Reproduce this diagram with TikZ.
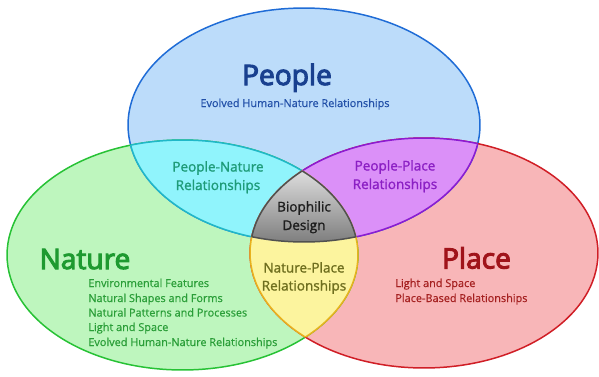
\documentclass[tikz,border=0pt]{standalone}
\usepackage{fontspec}
\setmainfont{Open Sans}
\newfontfamily\titlefont[FakeBold=3.6]{Open Sans}
\newfontfamily\midfont[FakeBold=1.3]{Open Sans}
\newfontfamily\smallfont[FakeBold=0.6]{Open Sans}
\definecolor{blueFill}{HTML}{BCDCFA}
\definecolor{blueLine}{HTML}{1F6CD6}
\definecolor{greenFill}{HTML}{BEF6BE}
\definecolor{greenLine}{HTML}{27C235}
\definecolor{redFill}{HTML}{F8B6B8}
\definecolor{redLine}{HTML}{D01E26}
\definecolor{cyanFill}{HTML}{90F4FC}
\definecolor{cyanLine}{HTML}{20B8C8}
\definecolor{purpFill}{HTML}{DB90F8}
\definecolor{purpLine}{HTML}{8C1BD2}
\definecolor{yelFill}{HTML}{FCF49E}
\definecolor{yelLine}{HTML}{E8B21E}
\definecolor{grayLine}{HTML}{505050}
\definecolor{peopleTxt}{HTML}{19408F}
\definecolor{peopleSub}{HTML}{2250A8}
\definecolor{natureTxt}{HTML}{1E9A30}
\definecolor{natureSub}{HTML}{2A9E38}
\definecolor{placeTxt}{HTML}{A0131A}
\definecolor{placeSub}{HTML}{A52020}
\definecolor{pnTxt}{HTML}{1E9B78}
\definecolor{ppTxt}{HTML}{8B1FC4}
\definecolor{npTxt}{HTML}{6E6E1E}
\definecolor{bdTxt}{HTML}{1E1E1E}
\begin{document}
\begin{tikzpicture}[x=0.02cm,y=-0.02cm,
  ring/.style={line width=0.85pt},
  bigtitle/.style={font=\titlefont\fontsize{16}{19}\selectfont, anchor=base, inner sep=0pt},
  listtxt/.style={font=\smallfont\fontsize{6.2}{7.5}\selectfont, anchor=base west, inner sep=0pt},
  subtxt/.style={font=\smallfont\fontsize{6.2}{7.5}\selectfont, anchor=base, inner sep=0pt},
  midtxt/.style={font=\midfont\fontsize{7.7}{9}\selectfont, anchor=base, inner sep=0pt}]
\useasboundingbox (0,0) rectangle (599,376);
% base fills
\fill[blueFill] (304,125) ellipse [x radius=3.52cm, y radius=2.34cm];
\fill[greenFill] (182.5,255) ellipse [x radius=3.51cm, y radius=2.30cm];
\fill[redFill] (424,253) ellipse [x radius=3.48cm, y radius=2.30cm];
\draw[ring, blueLine] (304,125) ellipse [x radius=3.52cm, y radius=2.34cm];
\draw[ring, greenLine] (182.5,255) ellipse [x radius=3.51cm, y radius=2.30cm];
\draw[ring, redLine] (424,253) ellipse [x radius=3.48cm, y radius=2.30cm];
% people & nature
\begin{scope}
  \clip (304,125) ellipse [x radius=3.52cm, y radius=2.34cm];
  \fill[cyanFill] (182.5,255) ellipse [x radius=3.51cm, y radius=2.30cm];
  \draw[ring, cyanLine] (182.5,255) ellipse [x radius=3.51cm, y radius=2.30cm];
\end{scope}
\begin{scope}
  \clip (182.5,255) ellipse [x radius=3.51cm, y radius=2.30cm];
  \draw[ring, cyanLine] (304,125) ellipse [x radius=3.52cm, y radius=2.34cm];
\end{scope}
% people & place
\begin{scope}
  \clip (304,125) ellipse [x radius=3.52cm, y radius=2.34cm];
  \fill[purpFill] (424,253) ellipse [x radius=3.48cm, y radius=2.30cm];
  \draw[ring, purpLine] (424,253) ellipse [x radius=3.48cm, y radius=2.30cm];
\end{scope}
\begin{scope}
  \clip (424,253) ellipse [x radius=3.48cm, y radius=2.30cm];
  \draw[ring, purpLine] (304,125) ellipse [x radius=3.52cm, y radius=2.34cm];
\end{scope}
% nature & place
\begin{scope}
  \clip (182.5,255) ellipse [x radius=3.51cm, y radius=2.30cm];
  \fill[yelFill] (424,253) ellipse [x radius=3.48cm, y radius=2.30cm];
  \draw[ring, yelLine] (424,253) ellipse [x radius=3.48cm, y radius=2.30cm];
\end{scope}
\begin{scope}
  \clip (424,253) ellipse [x radius=3.48cm, y radius=2.30cm];
  \draw[ring, yelLine] (182.5,255) ellipse [x radius=3.51cm, y radius=2.30cm];
\end{scope}
% centre
\begin{scope}
  \clip (304,125) ellipse [x radius=3.52cm, y radius=2.34cm];
  \clip (182.5,255) ellipse [x radius=3.51cm, y radius=2.30cm];
  \clip (424,253) ellipse [x radius=3.48cm, y radius=2.30cm];
  \shade[top color=black!10, bottom color=black!52] (240,165) rectangle (370,245);
\end{scope}
\begin{scope}
  \clip (304,125) ellipse [x radius=3.52cm, y radius=2.34cm];
  \clip (182.5,255) ellipse [x radius=3.51cm, y radius=2.30cm];
  \draw[ring, grayLine] (424,253) ellipse [x radius=3.48cm, y radius=2.30cm];
\end{scope}
\begin{scope}
  \clip (304,125) ellipse [x radius=3.52cm, y radius=2.34cm];
  \clip (424,253) ellipse [x radius=3.48cm, y radius=2.30cm];
  \draw[ring, grayLine] (182.5,255) ellipse [x radius=3.51cm, y radius=2.30cm];
\end{scope}
\begin{scope}
  \clip (182.5,255) ellipse [x radius=3.51cm, y radius=2.30cm];
  \clip (424,253) ellipse [x radius=3.48cm, y radius=2.30cm];
  \draw[ring, grayLine] (304,125) ellipse [x radius=3.52cm, y radius=2.34cm];
\end{scope}
% texts
\node[bigtitle, text=peopleTxt] (people) at (287,85) {People};
\node[subtxt, text=peopleSub] (peoplesub) at (295,107) {Evolved Human-Nature Relationships};
\node[bigtitle, text=natureTxt] (nature) at (85,269) {Nature};
\node[listtxt, text=natureSub] (n1) at (88,287) {Environmental Features};
\node[listtxt, text=natureSub] (n2) at (88,302) {Natural Shapes and Forms};
\node[listtxt, text=natureSub] (n3) at (88,316.5) {Natural Patterns and Processes};
\node[listtxt, text=natureSub] (n4) at (88,331) {Light and Space};
\node[listtxt, text=natureSub] (n5) at (88,346) {Evolved Human-Nature Relationships};
\node[bigtitle, text=placeTxt] (place) at (476.5,268.5) {Place};
\node[listtxt, text=placeSub] (p1) at (395,287) {Light and Space};
\node[listtxt, text=placeSub] (p2) at (395,302) {Place-Based Relationships};
\node[midtxt, text=pnTxt] (pn1) at (218,171.5) {People-Nature};
\node[midtxt, text=pnTxt] (pn2) at (218,190) {Relationships};
\node[midtxt, text=ppTxt] (pp1) at (395,170.5) {People-Place};
\node[midtxt, text=ppTxt] (pp2) at (395,189) {Relationships};
\node[midtxt, text=bdTxt] (bd1) at (304,211.5) {Biophilic};
\node[midtxt, text=bdTxt] (bd2) at (304,230) {Design};
\node[midtxt, text=npTxt] (np1) at (304,272.5) {Nature-Place};
\node[midtxt, text=npTxt] (np2) at (304,290.5) {Relationships};
\end{tikzpicture}
\end{document}
